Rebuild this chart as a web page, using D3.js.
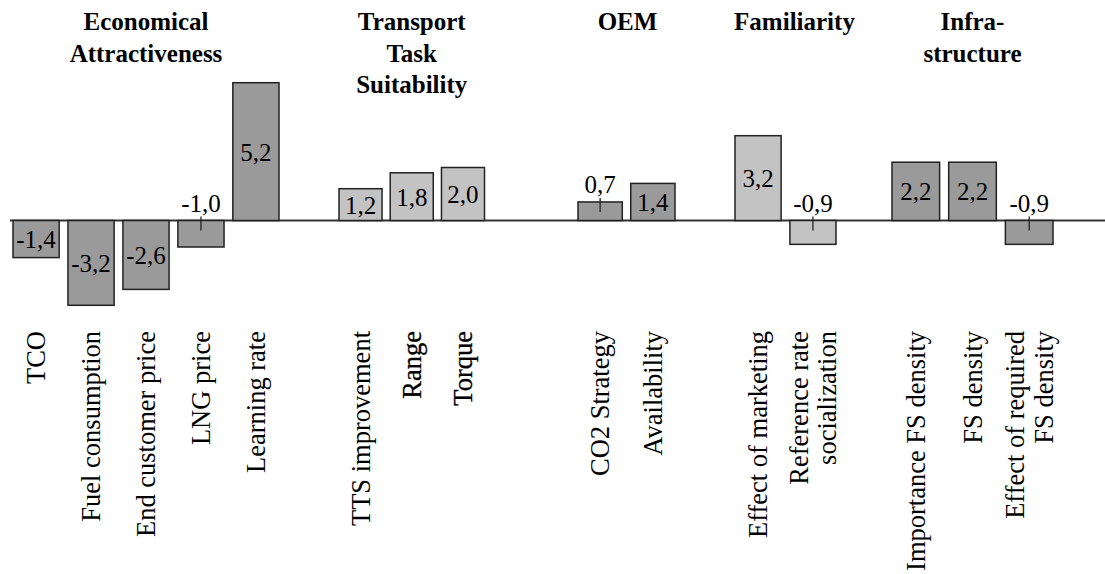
<!DOCTYPE html>
<html>
<head>
<meta charset="utf-8">
<script src="https://cdn.jsdelivr.net/npm/d3@7"></script>
</head>
<body style="margin:0">
<svg id="chart" width="1105" height="574"></svg>
<script>
// Driver groups and their headings
const groupTitles = [
  ["Economical", "Attractiveness"],
  ["Transport", "Task", "Suitability"],
  ["OEM"],
  ["Familiarity"],
  ["Infra-", "structure"]
];

// Drivers (each label may wrap onto two lines)
const categories = [
  ["TCO"], ["Fuel consumption"], ["End customer price"], ["LNG price"], ["Learning rate"],
  ["TTS improvement"], ["Range"], ["Torque"],
  ["CO2 Strategy"], ["Availability"],
  ["Effect of marketing"], ["Reference rate", "socialization"],
  ["Importance FS density"], ["FS density"], ["Effect of required", "FS density"]
];
const groupOf = [0, 0, 0, 0, 0, 1, 1, 1, 2, 2, 3, 3, 4, 4, 4];
const values = [-1.4, -3.2, -2.6, -1.0, 5.2, 1.2, 1.8, 2.0, 0.7, 1.4, 3.2, -0.9, 2.2, 2.2, -0.9];

// Layout
const FONT = "Liberation Serif";
const groupRanges = [[13, 279], [339, 484.5], [578, 675], [735, 836], [892, 1053]];
const groupFills = ["#9a9a9a", "#c3c3c3", "#9a9a9a", "#c3c3c3", "#9a9a9a"];
const headerShift = [0, 0, 1, 9, 0];
const emphasised = new Set(["Range", "Torque"]);
const fmt = v => d3.format(".1f")(v).replace(".", ",").replace("−", "-");

const svg = d3.select("#chart");

function addText(str, size, weight) {
  const t = svg.append("text")
    .attr("font-family", FONT)
    .attr("font-size", size)
    .text(str);
  if (weight) t.attr("font-weight", weight);
  return t;
}

const y = d3.scaleLinear().domain([-4, 6]).range([326.5, 61.5]);
const y0 = y(0);

// One band scale per group
const xScales = groupRanges.map((r, g) => {
  const idx = d3.range(values.length).filter(i => groupOf[i] === g);
  return d3.scaleBand().domain(idx).range(r).paddingInner(0.16).paddingOuter(0);
});
const xOf = i => xScales[groupOf[i]](i);
const bw = i => xScales[groupOf[i]].bandwidth();
const cx = i => xOf(i) + bw(i) / 2;

// Zero line
svg.append("line")
  .attr("x1", 10).attr("x2", 1105)
  .attr("y1", y0).attr("y2", y0)
  .attr("stroke", "#333").attr("stroke-width", 2);

// Bars
svg.append("g").selectAll("rect")
  .data(values)
  .join("rect")
  .attr("x", (d, i) => xOf(i))
  .attr("width", (d, i) => bw(i))
  .attr("y", d => Math.min(y(d), y0))
  .attr("height", d => Math.abs(y(d) - y0))
  .attr("fill", (d, i) => groupFills[groupOf[i]])
  .attr("stroke", "#222")
  .attr("stroke-width", 1.5);

// Value labels: inside the bar, or above it with a short leader for small bars
values.forEach((v, i) => {
  const outside = Math.abs(v) <= 1.0;
  if (!outside) {
    addText(fmt(v), 25)
      .attr("x", cx(i)).attr("y", (y(v) + y0) / 2)
      .attr("dy", "0.36em")
      .attr("text-anchor", "middle");
  } else {
    const top = Math.min(y(v), y0);
    addText(fmt(v), 25)
      .attr("x", cx(i)).attr("y", top - 9)
      .attr("text-anchor", "middle");
    svg.append("line")
      .attr("x1", cx(i)).attr("x2", cx(i))
      .attr("y1", top - 4).attr("y2", top + 10)
      .attr("stroke", "#222").attr("stroke-width", 1.3);
  }
});

// Category labels, rotated
categories.forEach((lines, i) => {
  const lh = 28.5;
  lines.forEach((t, k) => {
    const off = (k - (lines.length - 1) / 2) * lh;
    const el = addText(t, 26.5)
      .attr("transform", `translate(${cx(i) + off},331) rotate(-90)`)
      .attr("dy", "0.35em")
      .attr("text-anchor", "end");
    if (emphasised.has(t)) el.attr("stroke", "#000").attr("stroke-width", 0.3);
  });
});

// Group headings
groupTitles.forEach((lines, g) => {
  const c = (groupRanges[g][0] + groupRanges[g][1]) / 2 + headerShift[g];
  lines.forEach((t, k) => {
    addText(t, 25, "bold")
      .attr("x", c).attr("y", 30 + k * 31.5)
      .attr("text-anchor", "middle");
  });
});
</script>
</body>
</html>
